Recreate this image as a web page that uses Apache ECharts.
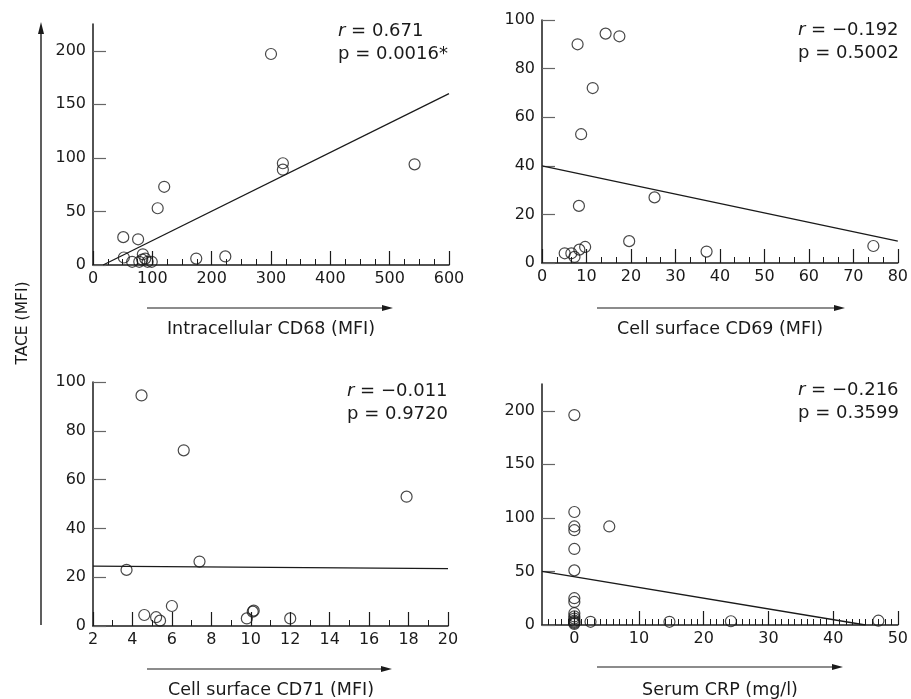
<!DOCTYPE html>
<html>
<head>
<meta charset="utf-8">
<script src="https://cdn.jsdelivr.net/npm/echarts@6/dist/echarts.min.js"></script>
<style>html,body{margin:0;padding:0;background:#fff;}#c{width:911px;height:699px;}</style>
</head>
<body>
<div id="c"></div>
<script>
// ---- Data ----
// Panel A: Intracellular CD68 (MFI) vs TACE (MFI)
var cd68X = [300, 320, 320, 542, 120, 109, 51, 76, 52, 66, 84, 83, 92, 99, 174, 223, 88, 78];
var cd68Y = [197, 95, 89, 94, 73, 53, 26, 24, 7, 3, 10, 5, 3, 3, 6, 8, 6, 3];
var cd68Fit = [[17, 0], [600, 160]];
// Panel B: Cell surface CD69 (MFI) vs TACE (MFI)
var cd69X = [8.0, 14.3, 17.4, 11.4, 8.8, 8.3, 25.3, 19.6, 37, 74.5, 5.1, 6.6, 7.3, 8.4, 9.7];
var cd69Y = [90, 94.4, 93.3, 72, 53, 23.5, 27, 9, 4.7, 7, 4, 4, 2.5, 5.5, 6.6];
var cd69Fit = [[0, 40], [80, 9]];
// Panel C: Cell surface CD71 (MFI) vs TACE (MFI)
var cd71X = [4.46, 6.6, 17.9, 7.4, 3.7, 6.0, 4.6, 5.2, 5.4, 9.8, 10.1, 10.15, 12.0];
var cd71Y = [94.5, 72, 53, 26.4, 23, 8.2, 4.5, 3.6, 2.2, 3.1, 5.9, 6.3, 3.1];
var cd71Fit = [[2, 24.5], [20, 23.5]];
// Panel D: Serum CRP (mg/l) vs TACE (MFI)
var crpX = [0, 0, 0, 0, 0, 0, 0, 0, 0, 0, 0, 0, 0, 0, 0, 5.4, 2.5, 14.7, 24.2, 47];
var crpY = [196, 105.5, 92, 88.5, 71, 51, 25, 21.5, 11, 8, 6, 4, 2, 1, 3, 92, 3, 3, 3.5, 4];
var crpFit = [[-5, 50], [45, 0]];

// Tick labels
var cd68Ticks = [0, 100, 200, 300, 400, 500, 600];
var cd69Ticks = [0, 10, 20, 30, 40, 50, 60, 70, 80];
var cd71Ticks = [2, 4, 6, 8, 10, 12, 14, 16, 18, 20];
var crpTicks = [0, 10, 20, 30, 40, 50];
var tace225Ticks = [0, 50, 100, 150, 200];
var tace100Ticks = [0, 20, 40, 60, 80, 100];

// Text
var yTitle = 'TACE (MFI)';
var xTitles = ['Intracellular CD68 (MFI)', 'Cell surface CD69 (MFI)', 'Cell surface CD71 (MFI)', 'Serum CRP (mg/l)'];
var rVals = ['0.671', '\u22120.192', '\u22120.011', '\u22120.216'];
var pVals = ['0.0016*', '0.5002', '0.9720', '0.3599'];

// ---- Chart ----
var FONT = 'DejaVu Sans';
var INK = '#1a1a1a';
var grids = [
  {left: 93, top: 24, width: 356, height: 241},
  {left: 542, top: 20, width: 357, height: 243},
  {left: 93, top: 382, width: 355, height: 244},
  {left: 542, top: 384, width: 357, height: 241}
];
function minorList(min, max, step, majorStep, base) {
  var out = [];
  var n = Math.round((max - min) / step);
  for (var i = 0; i <= n; i++) {
    var v = +(min + i * step).toFixed(4);
    var k = (v - base) / majorStep;
    if (Math.abs(k - Math.round(k)) > 1e-6) out.push(v);
  }
  return out;
}
var xRanges = [[0, 600], [0, 80], [2, 20], [-5, 50]];
var xTickSets = [cd68Ticks, cd69Ticks, cd71Ticks, crpTicks];
var minorSets = [
  minorList(0, 600, 25, 100, 0),
  minorList(0, 80, 10 / 3, 10, 0),
  minorList(2, 20, 1, 2, 0),
  minorList(-4, 50, 1, 10, 0)
];
var yMax = [225, 100, 100, 225];
var yTickSets = [tace225Ticks, tace100Ticks, tace100Ticks, tace225Ticks];

var xAxes = [], yAxes = [], series = [];
for (var g = 0; g < 4; g++) {
  xAxes.push({
    type: 'value', gridIndex: g, min: xRanges[g][0], max: xRanges[g][1], position: 'bottom',
    axisLine: {show: true, onZero: false, lineStyle: {color: INK, width: 1.5}},
    axisTick: {show: true, inside: true, length: 14, customValues: xTickSets[g], lineStyle: {color: INK, width: 1.2}},
    axisLabel: {show: true, customValues: xTickSets[g], margin: 6, color: INK, fontFamily: FONT, fontSize: 16},
    splitLine: {show: false}
  });
  xAxes.push({
    type: 'value', gridIndex: g, min: xRanges[g][0], max: xRanges[g][1], position: 'bottom', offset: 0,
    axisLine: {show: false},
    axisTick: {show: true, inside: true, length: 6, customValues: minorSets[g], lineStyle: {color: INK, width: 1}},
    axisLabel: {show: false}, splitLine: {show: false}
  });
  yAxes.push({
    type: 'value', gridIndex: g, min: 0, max: yMax[g],
    axisLine: {show: true, onZero: false, lineStyle: {color: INK, width: 1.5}},
    axisTick: {show: true, inside: true, length: 13, customValues: yTickSets[g], lineStyle: {color: '#666', width: 1.2}},
    axisLabel: {show: true, customValues: yTickSets[g], margin: 7, color: INK, fontFamily: FONT, fontSize: 16},
    splitLine: {show: false}
  });
}
var xsList = [cd68X, cd69X, cd71X, crpX], ysList = [cd68Y, cd69Y, cd71Y, crpY];
var fits = [cd68Fit, cd69Fit, cd71Fit, crpFit];
for (var s = 0; s < 4; s++) {
  var pts = xsList[s].map(function (x, i) { return [x, ysList[s][i]]; });
  series.push({
    type: 'line', xAxisIndex: s * 2, yAxisIndex: s, data: fits[s], symbol: 'none', clip: true,
    lineStyle: {color: INK, width: 1.3}, silent: true, z: 2
  });
  series.push({
    type: 'scatter', xAxisIndex: s * 2, yAxisIndex: s, data: pts, symbol: 'circle', symbolSize: 11,
    itemStyle: {color: 'rgba(0,0,0,0)', borderColor: INK, borderWidth: 1.2}, silent: true, z: 3
  });
}

// Decorations: annotation text, axis titles with arrows
var graphic = [];
var annPos = [[338, 30], [798, 29], [347, 390], [798, 389]];
for (var a = 0; a < 4; a++) {
  graphic.push({
    type: 'text', left: annPos[a][0], top: annPos[a][1] - 10,
    style: {text: '{i|r} = ' + rVals[a] + '\np = ' + pVals[a], fontFamily: FONT, fontSize: 18, lineHeight: 23,
      fill: INK, rich: {i: {fontStyle: 'italic', fontFamily: FONT, fontSize: 18}}}
  });
}
var titlePos = [[271, 329, 147, 393, 308], [720, 329, 597, 845, 308], [271, 690, 147, 392, 669], [720, 690, 597, 843, 667]];
for (var t = 0; t < 4; t++) {
  var tp = titlePos[t];
  graphic.push({
    type: 'text', x: tp[0], y: tp[1],
    style: {text: xTitles[t], fontFamily: FONT, fontSize: 17.5, fill: INK, align: 'center', verticalAlign: 'middle'}
  });
  graphic.push({type: 'line', shape: {x1: tp[2], y1: tp[4], x2: tp[3] - 8, y2: tp[4]}, style: {stroke: INK, lineWidth: 1.2}});
  graphic.push({type: 'polygon', shape: {points: [[tp[3], tp[4]], [tp[3] - 11, tp[4] - 3], [tp[3] - 11, tp[4] + 3]]}, style: {fill: INK}});
}
graphic.push({type: 'line', shape: {x1: 41, y1: 625, x2: 41, y2: 32}, style: {stroke: INK, lineWidth: 1.4}});
graphic.push({type: 'polygon', shape: {points: [[41, 22], [38, 34], [44, 34]]}, style: {fill: INK}});
graphic.push({
  type: 'text', x: 23, y: 323, rotation: Math.PI / 2,
  style: {text: yTitle, fontFamily: FONT, fontSize: 15.5, fill: INK, align: 'center', verticalAlign: 'middle'}
});

var chart = echarts.init(document.getElementById('c'), null, {renderer: 'canvas'});
chart.setOption({
  animation: false,
  backgroundColor: '#fff',
  grid: grids,
  xAxis: xAxes,
  yAxis: yAxes,
  series: series,
  graphic: graphic
});
</script>
</body>
</html>
